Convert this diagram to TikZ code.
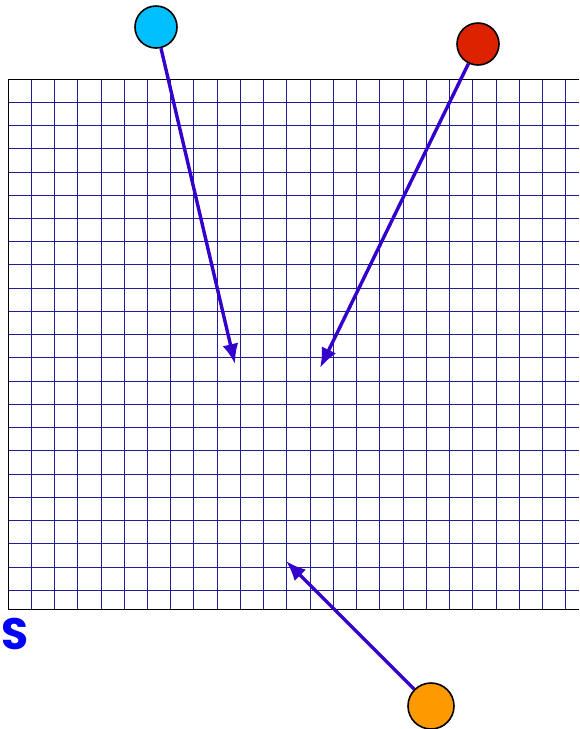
\documentclass[tikz,border=0pt]{standalone}
\usepackage{fontspec}
\setsansfont{Poppins}
\usetikzlibrary{arrows.meta}

\definecolor{gridblue}{RGB}{30,30,150}
\definecolor{arrowblue}{RGB}{51,0,204}
\definecolor{ballcyan}{RGB}{0,191,255}
\definecolor{ballred}{RGB}{221,34,0}
\definecolor{ballorange}{RGB}{255,153,0}

\begin{document}
\begin{tikzpicture}[x=1pt,y=-1pt,
    ball/.style={circle, draw=black, line width=1.6pt, minimum size=42pt, inner sep=0pt},
    push/.style={draw=arrowblue, line width=3.4pt, -{Latex[length=20pt,width=16pt]}}]

    \useasboundingbox (0,0) rectangle (579,729);

    % Grid
    \begin{scope}
        \clip (8,79) rectangle (579,609);
        \foreach \i in {0,...,24} {
            \draw[gridblue, line width=0.9pt] (8+23.24*\i,79) -- (8+23.24*\i,609);
        }
        \foreach \j in {0,...,22} {
            \draw[gridblue, line width=0.9pt] (8,79+23.24*\j) -- (579,79+23.24*\j);
        }
    \end{scope}
    \draw[black, line width=1pt] (579,79) -- (8,79) -- (8,609) -- (579,609);

    % Label
    \node[font=\sffamily\bfseries\fontsize{44}{44}\selectfont, text=blue, inner sep=0pt] (lbl) at (15,634) {S};

    % Balls
    \node[ball, fill=ballcyan] (cyanball) at (156,27) {};
    \node[ball, fill=ballred] (redball) at (478,44) {};
    \node[ball, fill=ballorange, minimum width=46pt] (orangeball) at (431,706) {};

    % Targets
    \coordinate (cyantip) at (235,364);
    \coordinate (redtip) at (320,368);
    \coordinate (orangetip) at (286,561);

    % Arrows
    \draw[push] (cyanball) -- (cyantip);
    \draw[push] (redball) -- (redtip);
    \draw[push] (orangeball) -- (orangetip);
\end{tikzpicture}
\end{document}
